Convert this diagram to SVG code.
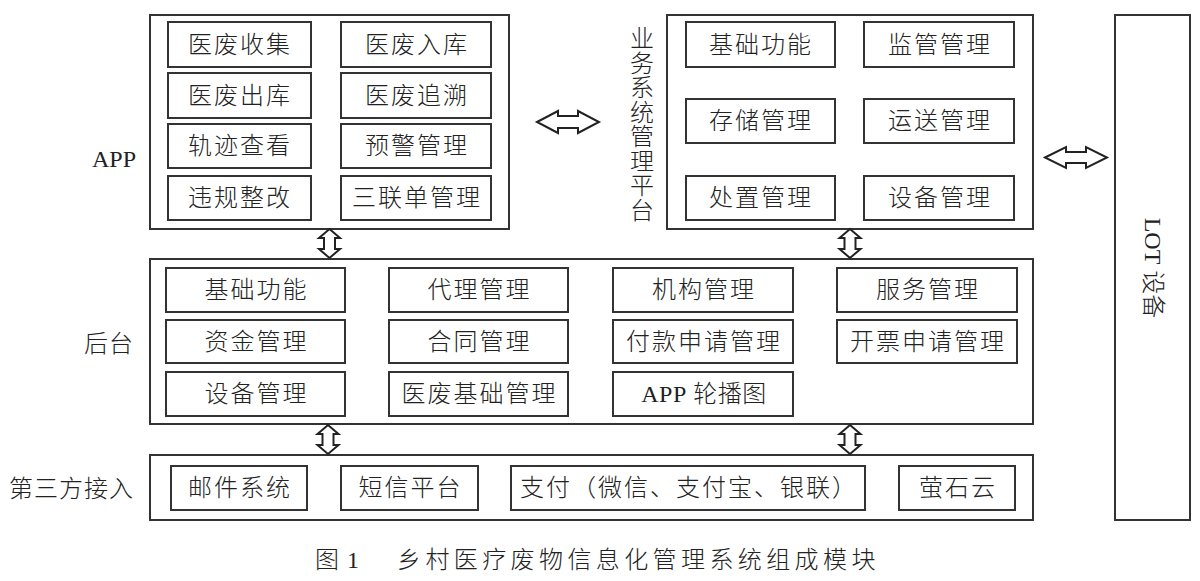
<svg xmlns="http://www.w3.org/2000/svg" width="1200" height="581" viewBox="0 0 1200 581">
<style>
.outer{fill:#fff;stroke:#333;stroke-width:2}
.box{fill:#fff;stroke:#333;stroke-width:2}
.t{font-family:"Liberation Serif","Noto Sans CJK SC",serif;font-size:24px;font-weight:300;fill:#222;text-anchor:middle;dominant-baseline:central;letter-spacing:2px}
.lbl{font-family:"Liberation Serif","Noto Sans CJK SC",serif;font-size:24px;font-weight:300;fill:#222;text-anchor:end;letter-spacing:1px}
.arr{fill:#fff;stroke:#222;stroke-width:2;stroke-linejoin:miter}
.cap{font-family:"Liberation Serif","Noto Sans CJK SC",serif;font-size:24px;font-weight:300;fill:#222}
.lat{font-weight:400}
</style>
<rect width="1200" height="581" fill="#fff"/>

<g id="app">
<rect class="outer" x="150" y="15" width="359" height="214"/>
<text class="lbl lat" x="136" y="167" style="letter-spacing:0">APP</text>
<rect class="box" x="168" y="22" width="143" height="45"/><text class="t" x="240" y="44.5">医废收集</text>
<rect class="box" x="341" y="22" width="150" height="45"/><text class="t" x="417" y="44.5">医废入库</text>
<rect class="box" x="168" y="73" width="143" height="45"/><text class="t" x="240" y="95.5">医废出库</text>
<rect class="box" x="341" y="73" width="150" height="45"/><text class="t" x="417" y="95.5">医废追溯</text>
<rect class="box" x="168" y="124" width="143" height="44"/><text class="t" x="240" y="146">轨迹查看</text>
<rect class="box" x="341" y="124" width="150" height="44"/><text class="t" x="417" y="146">预警管理</text>
<rect class="box" x="168" y="176" width="143" height="44"/><text class="t" x="240" y="198">违规整改</text>
<rect class="box" x="341" y="176" width="150" height="44"/><text class="t" x="417" y="198">三联单管理</text>
</g>

<g id="platform">
<rect class="outer" x="667" y="15" width="366" height="214"/>
<text class="t" x="642" y="39" style="letter-spacing:0">业</text>
<text class="t" x="642" y="63.5" style="letter-spacing:0">务</text>
<text class="t" x="642" y="88" style="letter-spacing:0">系</text>
<text class="t" x="642" y="112.5" style="letter-spacing:0">统</text>
<text class="t" x="642" y="137" style="letter-spacing:0">管</text>
<text class="t" x="642" y="161.5" style="letter-spacing:0">理</text>
<text class="t" x="642" y="186" style="letter-spacing:0">平</text>
<text class="t" x="642" y="210.5" style="letter-spacing:0">台</text>
<rect class="box" x="686" y="22" width="149" height="45"/><text class="t" x="761" y="44.5">基础功能</text>
<rect class="box" x="864" y="22" width="150" height="45"/><text class="t" x="940" y="44.5">监管管理</text>
<rect class="box" x="686" y="99" width="149" height="44"/><text class="t" x="761" y="121">存储管理</text>
<rect class="box" x="864" y="99" width="150" height="44"/><text class="t" x="940" y="121">运送管理</text>
<rect class="box" x="686" y="176" width="149" height="44"/><text class="t" x="761" y="198">处置管理</text>
<rect class="box" x="864" y="176" width="150" height="44"/><text class="t" x="940" y="198">设备管理</text>
</g>

<g id="backend">
<rect class="outer" x="150" y="259" width="883" height="165"/>
<text class="lbl" x="134" y="352">后台</text>
<rect class="box" x="166" y="268" width="179" height="44"/><text class="t" x="256.5" y="290">基础功能</text>
<rect class="box" x="389" y="268" width="179" height="44"/><text class="t" x="479.5" y="290">代理管理</text>
<rect class="box" x="613" y="268" width="180" height="44"/><text class="t" x="704" y="290">机构管理</text>
<rect class="box" x="837" y="268" width="180" height="44"/><text class="t" x="928" y="290">服务管理</text>
<rect class="box" x="166" y="320" width="179" height="43"/><text class="t" x="256.5" y="341.5">资金管理</text>
<rect class="box" x="389" y="320" width="179" height="43"/><text class="t" x="479.5" y="341.5">合同管理</text>
<rect class="box" x="613" y="320" width="180" height="43"/><text class="t" x="704" y="341.5">付款申请管理</text>
<rect class="box" x="837" y="320" width="180" height="43"/><text class="t" x="928" y="341.5">开票申请管理</text>
<rect class="box" x="166" y="372" width="179" height="44"/><text class="t" x="256.5" y="394">设备管理</text>
<rect class="box" x="389" y="372" width="179" height="44"/><text class="t" x="479.5" y="394">医废基础管理</text>
<rect class="box" x="613" y="372" width="180" height="44"/><text class="t" x="704" y="394" style="letter-spacing:0.5px"><tspan class="lat">APP</tspan> 轮播图</text>
</g>

<g id="third-party">
<rect class="outer" x="150" y="455" width="883" height="65"/>
<text class="lbl" x="134" y="497">第三方接入</text>
<rect class="box" x="171" y="466" width="136" height="44"/><text class="t" x="240" y="488">邮件系统</text>
<rect class="box" x="341" y="466" width="137" height="44"/><text class="t" x="410.5" y="488">短信平台</text>
<rect class="box" x="511" y="466" width="354" height="44"/><text class="t" x="689" y="488">支付（微信、支付宝、银联）</text>
<rect class="box" x="899" y="466" width="116" height="44"/><text class="t" x="958" y="488">萤石云</text>
</g>

<g id="lot">
<rect class="outer" x="1115" y="15" width="75" height="505"/>
<text class="t" x="0" y="0" transform="translate(1153,268) rotate(90)" style="letter-spacing:0"><tspan class="lat">LOT</tspan> 设备</text>
</g>

<g id="connectors">
<polygon class="arr" points="537,122 558,111 558,116 578,116 578,111 599,122 578,133 578,128 558,128 558,133"/>
<polygon class="arr" points="1045,157.5 1066,147 1066,152 1086,152 1086,147 1107,157.5 1086,168 1086,163 1066,163 1066,168"/>
<polygon class="arr" points="329.5,229 340,238 335,238 335,249 340,249 329.5,258 319,249 324,249 324,238 319,238"/>
<polygon class="arr" points="850,229 860.5,238 855.5,238 855.5,249 860.5,249 850,258 839.5,249 844.5,249 844.5,238 839.5,238"/>
<polygon class="arr" points="328,425 338.5,434 333.5,434 333.5,445 338.5,445 328,454 317.5,445 322.5,445 322.5,434 317.5,434"/>
<polygon class="arr" points="850,425 860.5,434 855.5,434 855.5,445 860.5,445 850,454 839.5,445 844.5,445 844.5,434 839.5,434"/>
</g>

<g id="caption">
<text class="cap" x="315" y="568">图</text>
<text class="cap lat" x="347" y="568">1</text>
<text class="cap" x="397" y="568" style="letter-spacing:4.4px">乡村医疗废物信息化管理系统组成模块</text>
</g>
</svg>
